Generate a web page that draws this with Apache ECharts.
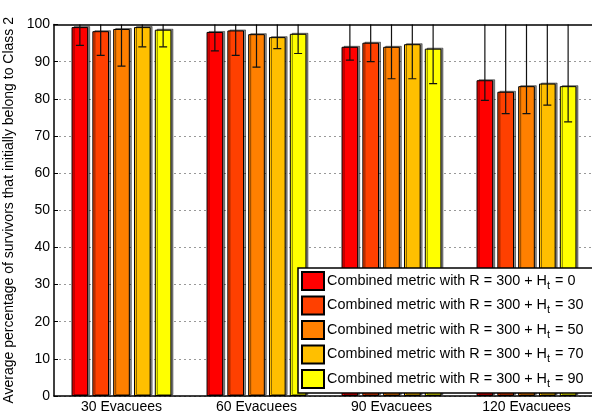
<!DOCTYPE html>
<html>
<head>
<meta charset="utf-8">
<script src="https://cdn.jsdelivr.net/npm/echarts@6/dist/echarts.min.js"></script>
<style>
  html, body { margin: 0; padding: 0; background: #fff; }
  #chart { width: 592px; height: 414px; }
</style>
</head>
<body>
<div id="chart"></div>
<script>
const categories = ['30 Evacuees', '60 Evacuees', '90 Evacuees', '120 Evacuees']
const htValues = [0, 30, 50, 70, 90]
const colors = ['#ff0000', '#ff4000', '#ff8000', '#ffbf00', '#ffff00']

// bar heights, one array per H_t setting
const ht0 = [99.3, 98.0, 94.0, 85.0]
const ht30 = [98.2, 98.4, 95.1, 81.9]
const ht50 = [98.8, 97.4, 94.0, 83.4]
const ht70 = [99.3, 96.6, 94.7, 84.1]
const ht90 = [98.6, 97.5, 93.5, 83.4]

// error bar ends (upper ends run past the top of the frame)
const low0 = [94.4, 92.9, 90.4, 79.6]
const low30 = [91.7, 91.7, 90.0, 76.0]
const low50 = [88.8, 88.5, 85.4, 76.0]
const low70 = [94.0, 93.5, 85.4, 78.3]
const low90 = [94.0, 92.2, 84.1, 73.8]
const high0 = [100, 100, 100, 100]
const high30 = [100, 100, 100, 100]
const high50 = [100, 100, 100, 100]
const high70 = [100, 100, 100, 100]
const high90 = [100, 100, 100, 100]

const yTicks = [0, 10, 20, 30, 40, 50, 60, 70, 80, 90, 100]

const barValues = [ht0, ht30, ht50, ht70, ht90]
const lows = [low0, low30, low50, low70, low90]
const highs = [high0, high30, high50, high70, high90]

const CAT_GAP = 0.26
const BAR_GAP = 0.25
const names = htValues.map(h => 'Combined metric with R = 300 + H_t = ' + h)

function errorRender(idx) {
    return function (params, api) {
        const band = api.size([1, 0])[0]
        const bw = band * (1 - CAT_GAP) / (5 + 4 * BAR_GAP)
        const off = (idx - 2) * bw * (1 + BAR_GAP)
        const lo = api.coord([api.value(0), api.value(1)])
        const hi = api.coord([api.value(0), api.value(2)])
        const x = lo[0] + off
        const cap = 4
        const style = { stroke: '#111', lineWidth: 1.2 }
        return {
            type: 'group',
            children: [
                { type: 'line', shape: { x1: x, y1: hi[1] - 6, x2: x, y2: lo[1] }, style },
                { type: 'line', shape: { x1: x - cap, y1: lo[1], x2: x + cap, y2: lo[1] }, style },
            ],
        }
    }
}

const series = []
barValues.forEach((vals, i) => {
    series.push({
        name: names[i],
        type: 'bar',
        data: vals,
        barGap: (BAR_GAP * 100) + '%',
        barCategoryGap: (CAT_GAP * 100) + '%',
        itemStyle: {
            color: colors[i],
            borderColor: '#000',
            borderWidth: 1,
            shadowColor: 'rgba(0,0,0,0.45)',
            shadowBlur: 0,
            shadowOffsetX: 2,
            shadowOffsetY: -1,
        },
        z: 2,
    })
})
barValues.forEach((vals, i) => {
    series.push({
        type: 'custom',
        renderItem: errorRender(i),
        data: categories.map((c, j) => [j, lows[i][j], highs[i][j]]),
        clip: true,
        z: 5,
        silent: true,
    })
})

const chart = echarts.init(document.getElementById('chart'), null, { renderer: 'canvas' })
chart.setOption({
    animation: false,
    textStyle: { fontFamily: 'Liberation Sans, Arial, sans-serif', color: '#000' },
    grid: {
        left: 54, top: 24.5, width: 540, height: 371.5,
        containLabel: false,
        outerBoundsMode: 'none',
    },
    legend: {
        orient: 'vertical',
        left: 298,
        top: 268,
        data: names,
        itemWidth: 22,
        itemHeight: 18,
        itemGap: 4.5,
        padding: [3, 40, 4, 3],
        backgroundColor: '#fff',
        borderColor: '#000',
        borderWidth: 1.5,
        icon: 'rect',
        selectedMode: false,
        z: 10,
        formatter: name => {
            const parts = name.split('H_t')
            return '{a|' + parts[0] + 'H}{s|t}{a|' + parts[1] + '}'
        },
        textStyle: {
            padding: [0, 0, 0, -2],
            rich: {
                a: { fontSize: 14.4, color: '#000', fontFamily: 'Liberation Sans' },
                s: { fontSize: 11, color: '#000', fontFamily: 'Liberation Sans', padding: [9, 1, 0, 0] },
            },
        },
    },
    xAxis: [{
        type: 'category',
        data: categories,
        axisLine: { lineStyle: { color: '#000', width: 1.5 } },
        axisTick: { show: false },
        axisLabel: { fontSize: 14, color: '#000', margin: 4 },
        z: 6,
    }, {
        type: 'category',
        data: categories,
        position: 'top',
        axisLine: { show: true, lineStyle: { color: '#000', width: 1.5 } },
        axisTick: { show: false },
        axisLabel: { show: false },
        z: 6,
    }],
    yAxis: {
        type: 'value',
        min: yTicks[0],
        max: yTicks[yTicks.length - 1],
        interval: 10,
        name: 'Average percentage of survivors that initially belong to Class 2',
        nameLocation: 'middle',
        nameGap: 35,
        nameTextStyle: { fontSize: 14, color: '#000' },
        axisLine: { show: true, lineStyle: { color: '#000', width: 1.5 } },
        axisTick: { show: true, inside: true, length: 4, lineStyle: { color: '#000' } },
        axisLabel: { fontSize: 14, color: '#000', margin: 4 },
        splitLine: {
            show: true,
            showMaxLine: false,
            lineStyle: { color: '#999', type: [2, 3], width: 1 },
        },
    },
    series,
})
</script>
</body>
</html>
